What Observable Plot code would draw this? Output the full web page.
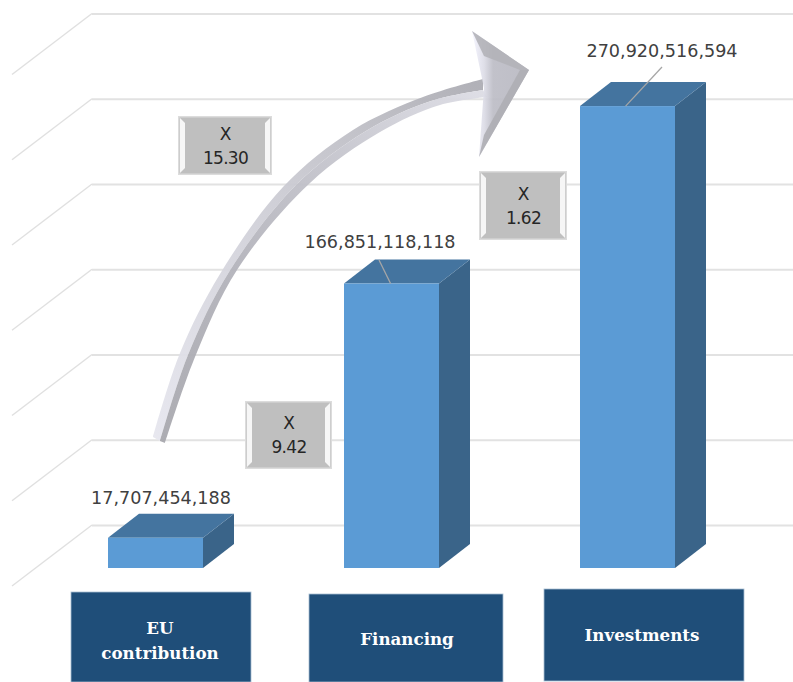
<!DOCTYPE html>
<html>
<head>
<meta charset="utf-8">
<script src="https://cdn.jsdelivr.net/npm/d3@7"></script>
<script src="https://cdn.jsdelivr.net/npm/@observablehq/plot@0.6"></script>
<style>
  html, body { margin: 0; padding: 0; background: #fff; }
  svg { display: block; }
</style>
</head>
<body>
<div id="chart"></div>
<script>
// Funding totals per programme stage
const categories = ["EU contribution", "Financing", "Investments"];
const amounts = [17707454188, 166851118118, 270920516594];
const gridValues = [0, 50e9, 100e9, 150e9, 200e9, 250e9, 300e9];
const multipliers = ["15.30", "9.42", "1.62"];
const categoryLines = [["EU", "contribution"], ["Financing"], ["Investments"]];

// Perspective of the fake 3D chart box
const barDepth = { dx: 31, dy: -24 };
const wallDepth = { dx: 80, dy: -61 };

const ns = "http://www.w3.org/2000/svg";
const el = (name, attrs, parent, text) => {
  const node = document.createElementNS(ns, name);
  for (const k in attrs) node.setAttribute(k, attrs[k]);
  if (text !== undefined) node.textContent = text;
  if (parent) parent.appendChild(node);
  return node;
};
const poly = (pts) => "M" + pts.map((p) => p.join(",")).join("L") + "Z";

const table = categories.map((name, i) => ({ name, amount: amounts[i] }));

// Slanted left part of the wall gridlines
function wallDiagonals(index, { y }, values, { marginLeft }) {
  const g = el("g", {});
  for (const v of gridValues) {
    const yBack = y(v) - 43;
    el("line", {
      x1: marginLeft, y1: yBack, x2: marginLeft - wallDepth.dx, y2: yBack - wallDepth.dy,
      stroke: "#e0e0e0", "stroke-width": 1.4
    }, g);
  }
  return g;
}

// Top and side faces extruded from each bar's front face
function barFaces(index, { x, y }) {
  const g = el("g", {});
  const w = x.bandwidth();
  const { dx, dy } = barDepth;
  for (const d of table) {
    const x0 = x(d.name), x1 = x0 + w, yTop = y(d.amount), yBase = y(0);
    el("path", { d: poly([[x1, yBase], [x1, yTop], [x1 + dx, yTop + dy], [x1 + dx, yBase + dy]]), fill: "#3A6489" }, g);
    el("path", { d: poly([[x0, yTop], [x0 + dx, yTop + dy], [x1 + dx, yTop + dy], [x1, yTop]]), fill: "#44749F" }, g);
  }
  return g;
}

// Curved growth arrow running from the first bar to the last one
function growthArrow() {
  const g = el("g", {});
  const defs = el("defs", {}, g);
  const grad = (id, stops, c) => {
    const lg = el("linearGradient", { id, gradientUnits: "userSpaceOnUse", ...c }, defs);
    stops.forEach(([o, col]) => el("stop", { offset: o, "stop-color": col }, lg));
  };
  const along = { x1: 160, y1: 440, x2: 480, y2: 90 };
  grad("shaftUpper", [[0, "#e6e6ee"], [0.45, "#d2d2da"], [0.75, "#c0c0c7"], [1, "#adadb4"]], along);
  grad("shaftLower", [[0, "#a8a8ae"], [0.4, "#b4b4bc"], [0.7, "#c6c6ce"], [1, "#dcdce4"]], along);
  grad("headBody", [[0, "#f3f3fd"], [0.2, "#dcdce6"], [0.36, "#bdbdc6"], [1, "#b9b9c2"]], { x1: 473, y1: 90, x2: 529, y2: 90 });

  const upper = [[153, 437], [180, 353], [220, 274], [283, 187], [353, 130], [423, 97], [483, 79]];
  const middle = [[160, 441], [188, 355], [229, 272], [296, 185], [366, 131], [431, 101], [483, 90]];
  const lower = [[165, 443], [195, 357], [237, 270], [310, 183], [380, 132], [440, 105], [487, 97]];
  const curve = d3.line().curve(d3.curveCatmullRom);
  const band = (a, b) => curve(a) + "L" + curve(b.slice().reverse()).slice(1) + "Z";
  el("path", { d: band(upper, middle), fill: "url(#shaftUpper)", "fill-opacity": 0.95 }, g);
  el("path", { d: band(middle, lower), fill: "url(#shaftLower)", "fill-opacity": 0.95 }, g);

  // Bevelled arrow head
  const top = [472, 31], tip = [529, 70], bottom = [479, 157], notch = [484, 88];
  const inner = [484, 56], innerTip = [520, 70], innerLow = [484, 135];
  el("path", { d: poly([top, tip, bottom, notch]), fill: "url(#headBody)", "fill-opacity": 0.93 }, g);
  el("path", { d: poly([top, tip, innerTip, inner]), fill: "#b2b2b8", "fill-opacity": 0.9 }, g);
  el("path", { d: poly([tip, bottom, innerLow, innerTip]), fill: "#aeaeb4", "fill-opacity": 0.9 }, g);
  return g;
}

// Leader lines from the two taller bars to their labels
function leaders(index, { x, y }) {
  const g = el("g", {});
  const w = x.bandwidth();
  const spec = [
    { name: "Financing", amount: amounts[1], fx: 0.49, tx: 379, ty: 260 },
    { name: "Investments", amount: amounts[2], fx: 0.48, tx: 662, ty: 67 }
  ];
  for (const s of spec) {
    el("line", {
      x1: x(s.name) + s.fx * w, y1: y(s.amount), x2: s.tx, y2: s.ty,
      stroke: "#a6a6a6", "stroke-width": 1.3
    }, g);
  }
  return g;
}

// Grey bevelled multiplier badges
const badgeBoxes = [
  { l: 178, t: 116, r: 272, b: 175 },
  { l: 245, t: 401, r: 332, b: 469 },
  { l: 479, t: 171, r: 567, b: 240 }
];
function badges() {
  const g = el("g", {});
  multipliers.forEach((m, i) => {
    const { l, t, r, b } = badgeBoxes[i];
    const s = 7, a = 2;
    el("rect", { x: l + 0.75, y: t + 0.75, width: r - l - 1.5, height: b - t - 1.5, fill: "#bfbfbf", stroke: "#dcdcdc", "stroke-width": 1.5 }, g);
    el("path", { d: poly([[l + a, t + a], [l + s, t + s], [l + s, b - s], [l + a, b - a]]), fill: "#f6f6f6" }, g);
    el("path", { d: poly([[r - a, t + a], [r - s, t + s], [r - s, b - s], [r - a, b - a]]), fill: "#f6f6f6" }, g);
    const cx = (l + r) / 2 + 0.5, cy = (t + b) / 2;
    const style = { "text-anchor": "middle", "font-family": "'DejaVu Sans'", fill: "#262626", "font-size": 17 };
    el("text", { x: cx, y: cy - 6, ...style }, g, "X");
    el("text", { x: cx, y: cy + 18, "letter-spacing": -0.7, ...style }, g, m);
  });
  return g;
}

// Navy category boxes along the bottom
const categoryBoxes = [
  { l: 71, t: 592, r: 251, b: 682, lineY: [634, 659], cx: 160 },
  { l: 309, t: 594, r: 503, b: 682, lineY: [645], cx: 407 },
  { l: 544, t: 589, r: 744, b: 681, lineY: [641], cx: 642 }
];
function categoryLabels() {
  const g = el("g", {});
  categoryBoxes.forEach((box, i) => {
    el("rect", { x: box.l, y: box.t, width: box.r - box.l, height: box.b - box.t, fill: "#1F4E79", stroke: "#a9bfd3", "stroke-width": 0.8 }, g);
    categoryLines[i].forEach((line, j) => {
      el("text", {
        x: box.cx, y: box.lineY[j], "text-anchor": "middle", fill: "#fff",
        "font-family": "'DejaVu Serif'", "font-weight": 700, "font-size": 16.7
      }, g, line);
    });
  });
  return g;
}

const labelShift = { "EU contribution": [5, -40], "Financing": [-12, -42], "Investments": [34, -55] };

const chart = Plot.plot({
  width: 793,
  height: 682,
  marginLeft: 92,
  marginRight: 0,
  marginTop: 0,
  marginBottom: 0,
  style: { background: "#fff" },
  x: { type: "band", domain: categories, range: [107, 676.5], paddingInner: 0.597, paddingOuter: 0, axis: null },
  y: { domain: [0, 300e9], range: [568, 56.5], axis: null },
  marks: [
    Plot.ruleY(gridValues, { stroke: "#e2e2e2", strokeWidth: 2, dy: -43 }),
    wallDiagonals,
    barFaces,
    Plot.barY(table, { x: "name", y: "amount", fill: "#5B9BD5", inset: 0 }),
    leaders,
    growthArrow,
    ...table.map((d) => Plot.text([d], {
      x: "name",
      y: "amount",
      text: (t) => d3.format(",")(t.amount),
      dx: labelShift[d.name][0],
      dy: labelShift[d.name][1],
      fontFamily: "'DejaVu Sans'",
      fontSize: 17.6,
      fill: "#404040"
    })),
    badges,
    categoryLabels
  ]
});
document.getElementById("chart").appendChild(chart);
</script>
</body>
</html>
